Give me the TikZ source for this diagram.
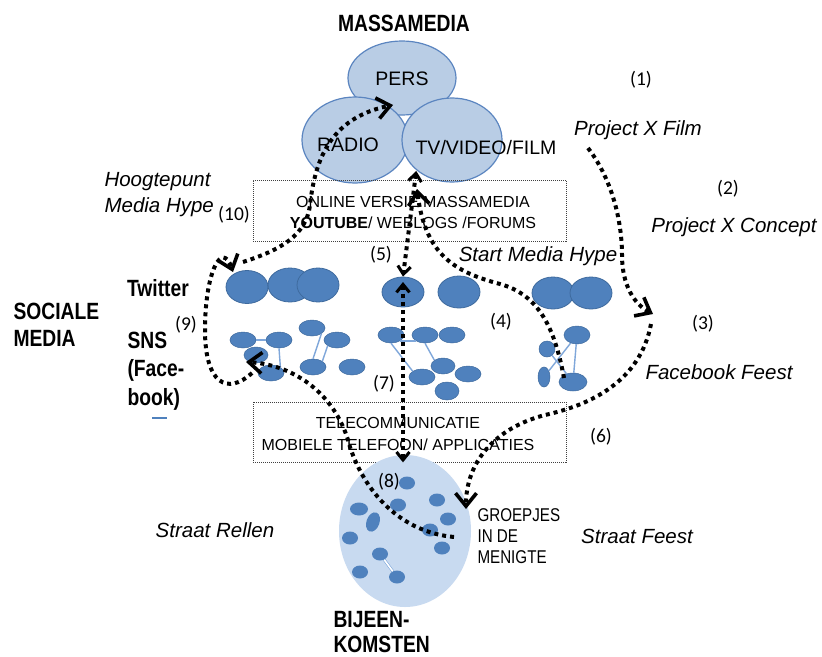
\documentclass[tikz,border=0pt]{standalone}
\usepackage{fontspec}
\setmainfont{Liberation Sans}
\newfontfamily\narrowfont[FakeStretch=0.82]{Liberation Sans}
\newfontfamily\numfont{Carlito}
\usetikzlibrary{shapes.geometric, arrows.meta}
\definecolor{massfill}{HTML}{B9CDE5}
\definecolor{massline}{HTML}{5B85C0}
\definecolor{netfill}{HTML}{4F81BD}
\definecolor{netline}{HTML}{3E6A9E}
\definecolor{crowdfill}{HTML}{C8DAF0}
\definecolor{linkcol}{HTML}{7FA7DA}
\tikzset{
  medium/.style={ellipse, draw=massline, fill=massfill, line width=1.2pt, inner sep=0pt},
  tweet/.style={ellipse, draw=netline, fill=netfill, line width=0.8pt, inner sep=0pt,
    minimum width=42pt, minimum height=32pt},
  snsnode/.style={ellipse, draw=netline, fill=netfill, line width=0.5pt, inner sep=0pt,
    minimum width=26pt, minimum height=16pt},
  person/.style={ellipse, fill=netfill, inner sep=0pt, minimum width=16pt, minimum height=13pt},
  link/.style={draw=linkcol, line width=1.4pt},
  mediabox/.style={draw=black!75, line width=0.7pt, dash pattern=on 1pt off 1pt},
  hype/.style={line width=4pt, dash pattern=on 4pt off 4pt, >={hypetip}},
  hypetip/.tip={Straight Barb[length=13pt, width=21pt, line width=3.6pt]},
  vtip/.tip={Straight Barb[length=8pt, width=13pt, line width=3pt]},
  medlabel/.style={font=\fontsize{19.5}{22}\selectfont},
  boxtext/.style={font=\fontsize{16}{21.5}\selectfont, align=center},
  caselabel/.style={font=\fontsize{20.5}{26}\selectfont\itshape, align=left},
  numlabel/.style={font=\numfont\fontsize{19.5}{22}\selectfont},
  headlabel/.style={font=\narrowfont\bfseries\fontsize{23.5}{27}\selectfont, align=left},
  grouplabel/.style={font=\narrowfont\fontsize{18.5}{21}\selectfont, align=left},
}

\begin{document}
\begin{tikzpicture}[x=1pt, y=-1pt]
  \useasboundingbox[fill=white] (0,0) rectangle (822,656);

  % massamedia
  \node[headlabel] (massa) at (404,23) {MASSAMEDIA};
  \node[medium, minimum width=108pt, minimum height=74pt] (pers) at (402,78) {};
  \node[medium, minimum width=106pt, minimum height=86pt] (radio) at (355,140) {};
  \node[medium, minimum width=100pt, minimum height=84pt] (tv) at (452,140) {};
  \node[medlabel] (perstxt) at (402,79) {PERS};
  \node[medlabel] (radiotxt) at (348,145) {RADIO};
  \node[medlabel] (tvtxt) at (486,148) {TV/VIDEO/FILM};

  % media boxes
  \node[mediabox, minimum width=313pt, minimum height=61pt] (online) at (409.5,210.5) {};
  \node[boxtext] (onlinetxt) at (413,212.5)
    {ONLINE VERSIE MASSAMEDIA\\\textbf{YOUTUBE}/ WEBLOGS /FORUMS};
  \node[mediabox, minimum width=313pt, minimum height=60pt] (telecom) at (409.5,432) {};
  \node[boxtext] (telecomtxt) at (398,434)
    {TELECOMMUNICATIE\\MOBIELE TELEFOON/ APPLICATIES};

  % twitter
  \node[tweet, minimum height=33pt] (tw1) at (247,287) {};
  \node[tweet, minimum width=44pt, minimum height=34pt] (tw2) at (290,285) {};
  \node[tweet, minimum height=34pt] (tw3) at (318,285) {};
  \node[tweet, minimum height=30pt] (tw4) at (403,292) {};
  \node[tweet] (tw5) at (459,292) {};
  \node[tweet] (tw6) at (553,293) {};
  \node[tweet] (tw7) at (591,293) {};

  % sns clusters
  \node[snsnode] (s1) at (243,340) {};
  \node[snsnode] (s2) at (279,340) {};
  \node[snsnode, minimum width=24pt] (s3) at (256,355) {};
  \node[snsnode] (s4) at (271,373) {};
  \node[snsnode] (s5) at (312,328) {};
  \node[snsnode] (s6) at (337,340) {};
  \node[snsnode] (s7) at (313,367) {};
  \node[snsnode] (s8) at (352,367) {};
  \draw[link] (s1) -- (s2);
  \draw[link] (s2.south) -- (s4.north east);
  \draw[link] (s5.south east) -- (s7.north);
  \draw[link] (s6.south west) -- (s7.north east);

  \node[snsnode] (m1) at (391,335) {};
  \node[snsnode] (m2) at (425,335) {};
  \node[snsnode] (m3) at (452,335) {};
  \node[snsnode, minimum width=24pt] (m4) at (443,366) {};
  \node[snsnode] (m5) at (422,377) {};
  \node[snsnode] (m6) at (468,374) {};
  \node[snsnode, minimum width=24pt, minimum height=18pt] (m7) at (447,391) {};
  \draw[link] (m1.south east) -- (m2.south west);
  \draw[link] (m1.south) -- (m5.north west);
  \draw[link] (m2.south) -- (m4.north west);

  \node[snsnode, minimum height=18pt] (r1) at (577,335) {};
  \node[snsnode, minimum width=16pt] (r2) at (547,349) {};
  \node[snsnode, minimum width=12pt, minimum height=20pt] (r3) at (544,377) {};
  \node[snsnode, minimum width=28pt, minimum height=18pt] (r4) at (573,382) {};
  \draw[link] (r1) -- (r4);
  \draw[link] (r1) -- (r3);
  \draw[link] (r2) -- (r4);

  % bijeenkomsten
  \node[ellipse, fill=crowdfill, minimum width=132pt, minimum height=152pt] (crowd) at (405,531) {};
  \node[person] (c1) at (407,483) {};
  \node[person, minimum width=18pt] (c2) at (359,509) {};
  \node[person, minimum width=13pt, minimum height=20pt, rotate=-20] (c3) at (373,522) {};
  \node[person] (c4) at (398,505) {};
  \node[person] (c5) at (437,500) {};
  \node[person] (c6) at (448,519) {};
  \node[person] (c7) at (430,530) {};
  \node[person] (c8) at (442,548) {};
  \node[person] (c9) at (350,538) {};
  \node[person] (c10) at (380,554) {};
  \node[person] (c11) at (360,572) {};
  \node[person] (c12) at (397,577) {};
  \draw[draw=linkcol, line width=0.6pt, double=white, double distance=1.6pt] (c10) -- (c12);

  % labels
  \node[headlabel] (twitter) at (158,288) {Twitter};
  \node[headlabel, anchor=west] (sociale) at (10,325) {SOCIALE\\MEDIA};
  \node[headlabel, font=\narrowfont\bfseries\fontsize{23.5}{28.5}\selectfont, anchor=west] (sns)
    at (124,371) {SNS\\(Face-\\book)};
  \draw[netfill, line width=1.2pt] (152,418) -- (167,418);
  \node[caselabel, anchor=west] (hoogtepunt) at (101,195) {Hoogtepunt\\Media Hype};
  \node[caselabel] (film) at (638,130) {Project X Film};
  \node[caselabel] (concept) at (734,227) {Project X Concept};
  \node[caselabel] (fbfeest) at (719,372) {Facebook Feest};
  \node[caselabel] (starthype) at (538,256) {Start Media Hype};
  \node[caselabel] (rellen) at (215,530) {Straat Rellen};
  \node[caselabel] (feest) at (637,536) {Straat Feest};
  \node[grouplabel, anchor=west] (groepjes) at (474,536) {GROEPJES\\IN DE\\MENIGTE};
  \node[headlabel, font=\narrowfont\bfseries\fontsize{23.5}{25}\selectfont, anchor=west] (bijeen)
    at (330,632) {BIJEEN-\\KOMSTEN};

  \node[numlabel] (n1) at (641,80) {(1)};
  \node[numlabel] (n2) at (728,189) {(2)};
  \node[numlabel] (n3) at (703,324) {(3)};
  \node[numlabel] (n4) at (501,322) {(4)};
  \node[numlabel] (n5) at (381,255) {(5)};
  \node[numlabel] (n6) at (601,437) {(6)};
  \node[numlabel] (n7) at (384,384) {(7)};
  \node[numlabel] (n8) at (389,482) {(8)};
  \node[numlabel] (n9) at (186,325) {(9)};
  \node[numlabel] (n10) at (234,215) {(10)};

  % hype paths
  \coordinate (filmend) at (588,148);
  \coordinate (fbpoint) at (653,314);
  \coordinate (fbstart) at (651,324);
  \coordinate (crowdin) at (466,509);
  \coordinate (snsright) at (564,378);
  \coordinate (onlinein) at (417,189);
  \coordinate (crowdmid) at (454,537);
  \coordinate (snsleft) at (246,362);
  \coordinate (snsloop) at (252,373);
  \coordinate (twin) at (233,272);
  \coordinate (twout) at (243,262);
  \coordinate (persin) at (393,105);

  \draw[hype, ->] (filmend) .. controls (614,182) and (622,225) .. (622,255)
    .. controls (622,285) and (634,304) .. (fbpoint);
  \draw[hype, ->] (fbstart) .. controls (640,382) and (590,405) .. (545,415)
    .. controls (495,428) and (466,462) .. (crowdin);
  \draw[hype, ->] (snsright) .. controls (555,330) and (540,295) .. (500,284)
    .. controls (455,272) and (425,255) .. (onlinein);
  \draw[hype, {vtip}-{vtip}] (tv.south west |- 0,171) -- (tw4.north);
  \draw[hype, {vtip}-{vtip}] (403,282) -- (telecom.south -| 403,0);
  \draw[hype, ->] (crowdmid) .. controls (400,532) and (365,492) .. (350,447)
    .. controls (337,395) and (295,365) .. (snsleft);
  \draw[hype, ->] (snsloop) .. controls (228,395) and (205,385) .. (205,330)
    .. controls (205,272) and (222,240) .. (twin);
  \draw[hype, ->] (twout) .. controls (280,250) and (306,236) .. (310,205)
    .. controls (315,160) and (330,118) .. (persin);
\end{tikzpicture}
\end{document}
